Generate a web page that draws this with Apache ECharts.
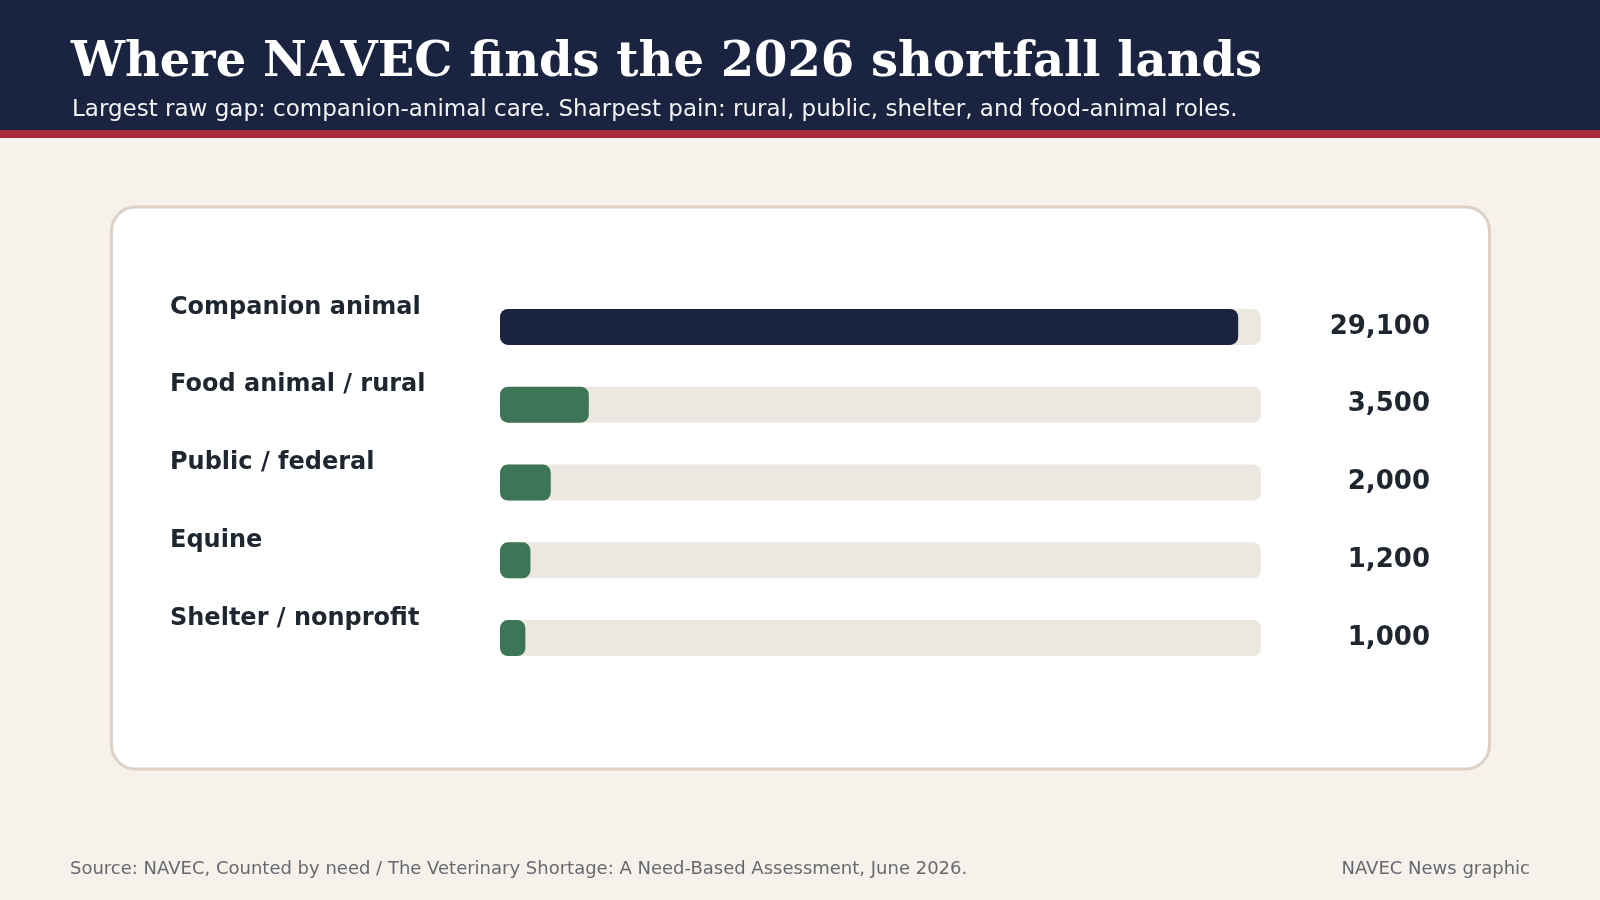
<!DOCTYPE html>
<html>
<head>
<meta charset="utf-8">
<script src="https://cdn.jsdelivr.net/npm/echarts@6/dist/echarts.min.js"></script>
<style>
  html, body { margin: 0; padding: 0; background: #f6f1eb; }
  #chart { width: 1600px; height: 900px; }
</style>
</head>
<body>
<div id="chart"></div>
<script>
// data
const categories = ["Companion animal", "Food animal / rural", "Public / federal", "Equine", "Shelter / nonprofit"];
const shortfall = [29100, 3500, 2000, 1200, 1000];
const barColors = ["#1a2440", "#3c7656", "#3c7656", "#3c7656", "#3c7656"];
const axisMax = 30000;

const title = "Where NAVEC finds the 2026 shortfall lands";
const subtitle = "Largest raw gap: companion-animal care. Sharpest pain: rural, public, shelter, and food-animal roles.";
const source = "Source: NAVEC, Counted by need / The Veterinary Shortage: A Need-Based Assessment, June 2026.";
const credit = "NAVEC News graphic";

const textDark = "#1f2630";

const chart = echarts.init(document.getElementById("chart"));

const option = {
  backgroundColor: "#f6f1eb",
  animation: false,
  graphic: [
    // header band
    { type: "rect", z: 0, shape: { x: 0, y: 0, width: 1600, height: 130 }, style: { fill: "#1a2440" } },
    { type: "rect", z: 0, shape: { x: 0, y: 130, width: 1600, height: 8 }, style: { fill: "#a82a3a" } },
    {
      type: "text", z: 1, x: 71, y: 64,
      style: { text: title, fill: "#ffffff", font: "bold 48px 'DejaVu Serif'", verticalAlign: "middle" }
    },
    {
      type: "text", z: 1, x: 72, y: 110,
      style: { text: subtitle, fill: "#f2f2f2", font: "23px 'DejaVu Sans'", verticalAlign: "middle" }
    },
    // white card
    {
      type: "rect", z: 0,
      shape: { x: 111.5, y: 207, width: 1378, height: 562, r: 24 },
      style: { fill: "#ffffff", stroke: "#dcd1c4", lineWidth: 3 }
    },
    // footer
    {
      type: "text", z: 1, x: 70, y: 869,
      style: { text: source, fill: "#666a70", font: "18px 'DejaVu Sans'", verticalAlign: "middle" }
    },
    {
      type: "text", z: 1, x: 1530, y: 869,
      style: { text: credit, fill: "#666a70", font: "18px 'DejaVu Sans'", verticalAlign: "middle", align: "right" }
    }
  ],
  grid: {
    left: 500,
    right: 339,
    top: 288,
    bottom: 900 - 677
  },
  xAxis: {
    type: "value",
    min: 0,
    max: axisMax,
    show: false
  },
  yAxis: [
    {
      type: "category",
      data: categories,
      inverse: true,
      axisLine: { show: false },
      axisTick: { show: false },
      splitLine: { show: false },
      axisLabel: {
        align: "left",
        verticalAlign: "bottom",
        lineHeight: 39,
        margin: 330,
        color: textDark,
        fontFamily: "DejaVu Sans",
        fontWeight: "bold",
        fontSize: 24
      }
    },
    {
      type: "category",
      data: shortfall.map((v) => v.toLocaleString("en-US")),
      inverse: true,
      position: "right",
      axisLine: { show: false },
      axisTick: { show: false },
      splitLine: { show: false },
      axisLabel: {
        align: "right",
        margin: 169,
        color: textDark,
        fontFamily: "DejaVu Sans",
        fontWeight: "bold",
        fontSize: 26
      }
    }
  ],
  series: [
    {
      type: "bar",
      barWidth: 36,
      showBackground: true,
      backgroundStyle: { color: "#ece7e0", borderRadius: 8 },
      itemStyle: { borderRadius: 8 },
      data: shortfall.map((v, i) => ({ value: v, itemStyle: { color: barColors[i] } }))
    }
  ]
};

chart.setOption(option);
</script>
</body>
</html>
